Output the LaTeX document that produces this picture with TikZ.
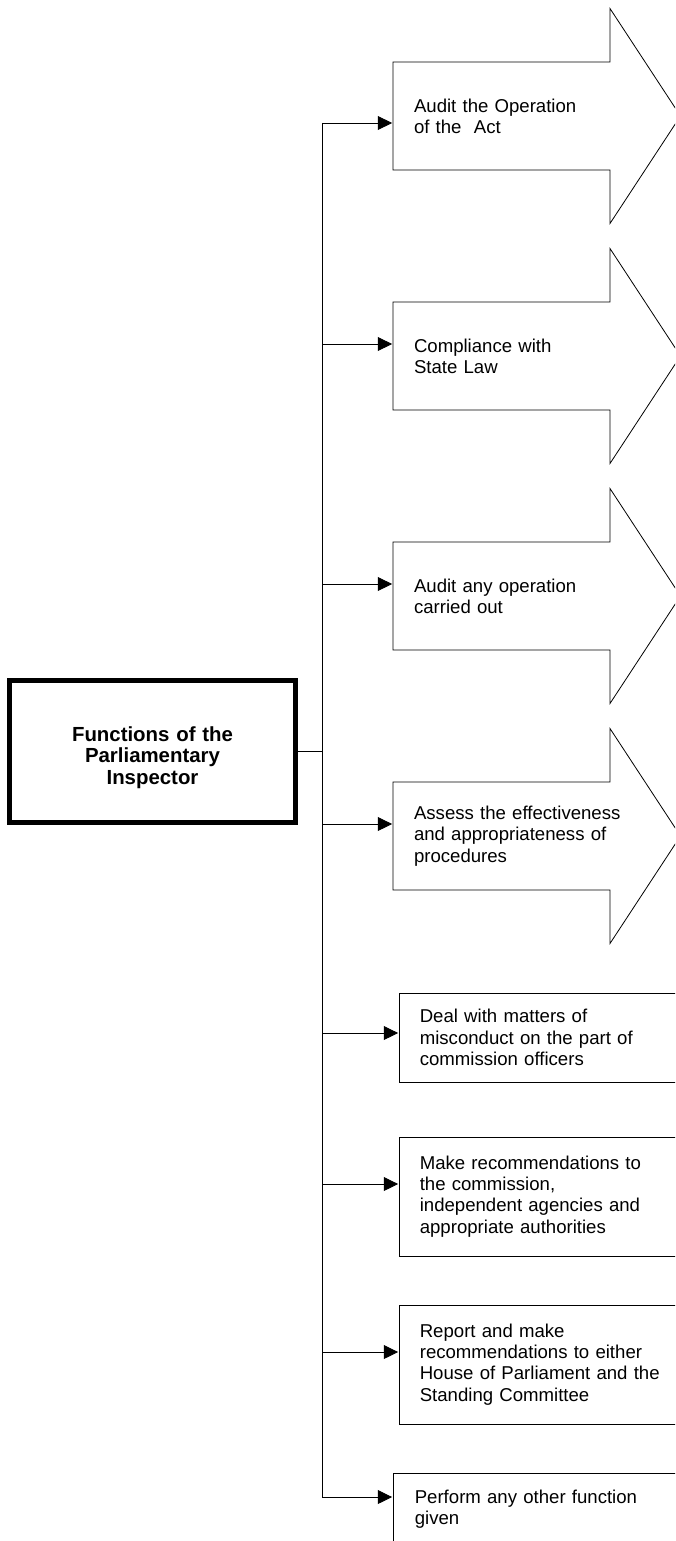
\documentclass[tikz,border=0pt]{standalone}
\usepackage{fontspec}
\setmainfont{Liberation Sans}
\usetikzlibrary{arrows.meta}

\begin{document}
\begin{tikzpicture}[x=0.5pt, y=-0.5pt]
\tikzset{ >={Triangle[length=7.8pt,width=7.5pt]}, line width=0.8pt,
  fntext/.style={font=\fontsize{9.3pt}{10.6pt}\selectfont, align=left, text width=125pt,
                 inner xsep=10.5pt, inner ysep=0pt, outer sep=0pt, anchor=west},
  fnbox/.style={fntext, draw, inner xsep=10pt, text width=130pt, outer sep=0.4pt},
  mainbox/.style={draw, line width=2.5pt, minimum width=143pt, minimum height=71pt,
                  font=\fontsize{10.2pt}{10.7pt}\selectfont\bfseries, align=center,
                  text width=130pt, inner sep=0pt, text height=7.3pt, text depth=17.3pt},
}

\useasboundingbox (0,0) rectangle (675,1541);
\clip (0,0) rectangle (675,1541);

%\draw [lightgray, dashed](0,0) grid [step=50] (675,1541);

\node [mainbox] (FPI) at (152.5,751.5) {Functions of the\\Parliamentary\\Inspector};

\coordinate (t1) at (322,123);
\coordinate (t2) at (322,344);
\coordinate (t3) at (322,584);
\coordinate (t4) at (322,824);
\coordinate (t5) at (322,1033);
\coordinate (t6) at (322,1184);
\coordinate (t7) at (322,1352);
\coordinate (t8) at (322,1497);

% big arrows
\node [fntext] (A1) at (393,116) {Audit the Operation\\of the\ \ Act};
\node [fntext] (A2) at (393,356) {Compliance with\\State Law};
\node [fntext] (A3) at (393,596) {Audit any operation\\carried out};
\node [fntext] (A4) at (393,836) {Assess the effectiveness\\and appropriateness of\\procedures};

\draw (A1.west) ++(0,54) -- ++(0,-108) -- ++(217,0) -- ++(0,-53.5) -- ++(70.5,107.5)
      -- ++(-70.5,107.5) -- ++(0,-53.5) -- cycle;
\draw (A2.west) ++(0,54) -- ++(0,-108) -- ++(217,0) -- ++(0,-53.5) -- ++(70.5,107.5)
      -- ++(-70.5,107.5) -- ++(0,-53.5) -- cycle;
\draw (A3.west) ++(0,54) -- ++(0,-108) -- ++(217,0) -- ++(0,-53.5) -- ++(70.5,107.5)
      -- ++(-70.5,107.5) -- ++(0,-53.5) -- cycle;
\draw (A4.west) ++(0,54) -- ++(0,-108) -- ++(217,0) -- ++(0,-53.5) -- ++(70.5,107.5)
      -- ++(-70.5,107.5) -- ++(0,-53.5) -- cycle;

% boxes
\node [fnbox, minimum height=44.5pt] (B5) at (399,1037.5) {Deal with matters of\\misconduct on the part of\\commission officers};
\node [fnbox, minimum height=59.5pt] (B6) at (399,1196.5) {Make recommendations to\\the commission,\\independent agencies and\\appropriate authorities};
\node [fnbox, minimum height=59.5pt] (B7) at (399,1364.5) {Report and make\\recommendations to either\\House of Parliament and the\\Standing Committee};
\node [fnbox, minimum height=36pt, inner xsep=10.5pt] (B8) at (393,1509) {Perform any other function\\given};

\draw (FPI.east) -- (FPI.east -| t1);
\draw (t1) -- (t8);

\draw [->] (t1) -- (t1 -| A1.west);
\draw [->] (t2) -- (t2 -| A2.west);
\draw [->] (t3) -- (t3 -| A3.west);
\draw [->] (t4) -- (t4 -| A4.west);
\draw [->] (t5) -- (t5 -| B5.west);
\draw [->] (t6) -- (t6 -| B6.west);
\draw [->] (t7) -- (t7 -| B7.west);
\draw [->] (t8) -- (t8 -| B8.west);

\end{tikzpicture}
\end{document}
